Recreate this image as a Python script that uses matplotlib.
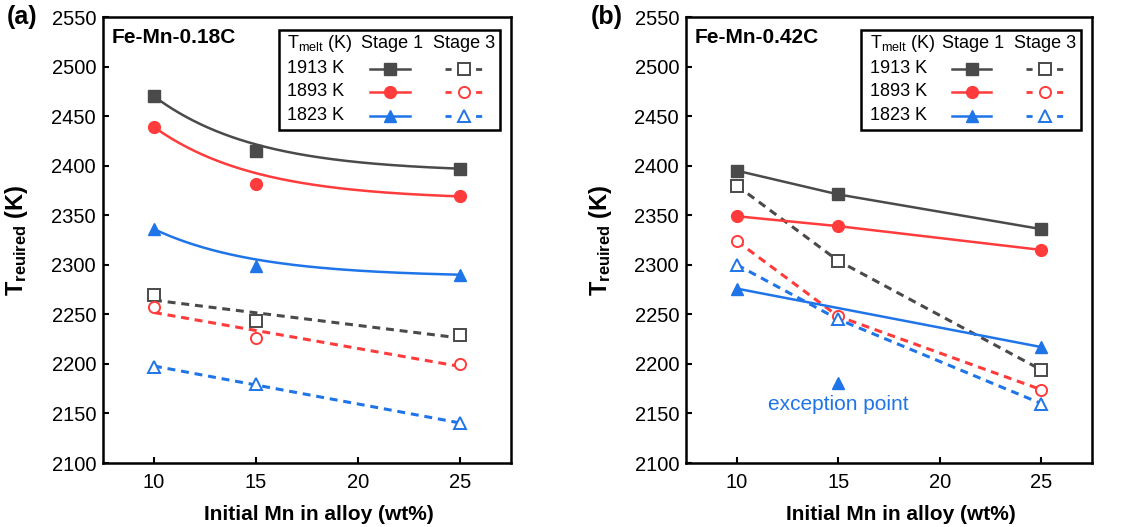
import numpy as np
import matplotlib
matplotlib.use("Agg")
import matplotlib.pyplot as plt
from matplotlib.patches import Rectangle
from matplotlib.lines import Line2D

plt.rcParams['font.family'] = ['Liberation Sans', 'DejaVu Sans']
plt.rcParams['mathtext.fontset'] = 'custom'
plt.rcParams['mathtext.rm'] = 'Liberation Sans'
plt.rcParams['mathtext.bf'] = 'Liberation Sans:bold'

# ---- data ----
mn = [10, 15, 25]
melt_labels = ['1913 K', '1893 K', '1823 K']
colors = ['#4a4a4a', '#ff3b3b', '#1f75e8']
markers = ['s', 'o', '^']

# Fe-Mn-0.18C
a_stage1 = {'1913 K': [2470, 2415, 2397],
            '1893 K': [2439, 2382, 2369],
            '1823 K': [2336, 2299, 2290]}
a_stage3 = {'1913 K': [2270, 2243, 2229],
            '1893 K': [2257, 2226, 2200],
            '1823 K': [2197, 2180, 2140]}

# Fe-Mn-0.42C
b_stage1 = {'1913 K': [2395, 2371, 2336],
            '1893 K': [2349, 2339, 2315],
            '1823 K': [2276, 2181, 2217]}
b_stage3 = {'1913 K': [2380, 2304, 2194],
            '1893 K': [2324, 2248, 2174],
            '1823 K': [2300, 2245, 2160]}
b_exception = ('1823 K', 15)

yticks = [2100, 2150, 2200, 2250, 2300, 2350, 2400, 2450, 2500, 2550]
xticks = [10, 15, 20, 25]


def exp_trend(x, y, tau=5.0):
    """Exponential-decay trend anchored on the first and last points."""
    x = np.asarray(x, float)
    y = np.asarray(y, float)
    e0, e1 = np.exp(-x[0] / tau), np.exp(-x[-1] / tau)
    b = (y[0] - y[-1]) / (e0 - e1)
    a = y[-1] - b * e1
    xs = np.linspace(x[0], x[-1], 200)
    return xs, a + b * np.exp(-xs / tau)


def lin_trend(x, y):
    k, c = np.polyfit(x, y, 1)
    xs = np.linspace(min(x), max(x), 50)
    return xs, k * xs + c


fig = plt.figure(figsize=(11.43, 5.27), dpi=100)
ax_a = fig.add_axes([0.0901, 0.1214, 0.357, 0.8463])
ax_b = fig.add_axes([0.6002, 0.1214, 0.3552, 0.8463])

ms_fill = 8.5
dash = (2.6, 1.9)


def style_axes(ax, title, panel):
    ax.set_xlim(7.5, 27.5)
    ax.set_ylim(2100, 2550)
    ax.set_xticks(xticks)
    ax.set_yticks(yticks)
    ax.tick_params(direction='in', length=4, width=1.5, labelsize=14.5, pad=5)
    ax.tick_params(axis='x', pad=7)
    for s in ax.spines.values():
        s.set_linewidth(1.8)
    ax.set_xlabel('Initial Mn in alloy (wt%)', fontsize=15, fontweight='bold')
    ax.xaxis.set_label_coords(0.53, -0.095)
    ax.set_ylabel(r'$\mathbf{T_{reuired}}$ (K)', fontsize=17, fontweight='bold')
    ax.yaxis.set_label_coords(-0.178, 0.5)
    ax.text(0.022, 0.953, title, transform=ax.transAxes, fontsize=15,
            fontweight='bold', va='center', ha='left')
    ax.text(-0.235, 1.0, panel, transform=ax.transAxes, fontsize=18,
            fontweight='bold', va='center', ha='left')

    # table-style legend
    box = Rectangle((0.4316, 0.7467), 0.5414, 0.2247, transform=ax.transAxes,
                    fill=False, lw=1.8, ec='black', zorder=5)
    ax.add_patch(box)
    fs = 13
    ax.text(0.452, 0.9405, r'T$_{\mathrm{melt}}$ (K)', transform=ax.transAxes,
            fontsize=fs, va='center', ha='left', zorder=6)
    ax.text(0.7075, 0.9405, 'Stage 1', transform=ax.transAxes, fontsize=fs,
            va='center', ha='center', zorder=6)
    ax.text(0.8845, 0.9405, 'Stage 3', transform=ax.transAxes, fontsize=fs,
            va='center', ha='center', zorder=6)
    row_y = [0.8845, 0.8322, 0.779]
    for lab, c, m, yy in zip(melt_labels, colors, markers, row_y):
        ax.text(0.452, yy, lab, transform=ax.transAxes, fontsize=fs,
                va='center', ha='left', zorder=6)
        ax.add_line(Line2D([0.655, 0.752], [yy, yy], transform=ax.transAxes,
                           color=c, lw=1.8, zorder=6))
        ax.add_line(Line2D([0.7035], [yy], transform=ax.transAxes, color=c,
                           marker=m, ms=ms_fill, mec=c, mfc=c, zorder=7))
        ax.add_line(Line2D([0.838, 0.93], [yy, yy], transform=ax.transAxes,
                           color=c, lw=2.0, ls=(0, (2.2, 3.3)), zorder=6))
        ax.add_line(Line2D([0.884], [yy], transform=ax.transAxes, color=c,
                           marker=m, ms=8, mec=c, mfc='white', mew=1.4,
                           ls='none', zorder=7))


# ---- (a) Fe-Mn-0.18C ----
for lab, c, m in zip(melt_labels, colors, markers):
    y1 = a_stage1[lab]
    xs, ys = exp_trend(mn, y1)
    ax_a.plot(xs, ys, color=c, lw=1.8, zorder=2)
    ax_a.plot(mn, y1, ls='none', marker=m, ms=ms_fill, color=c, zorder=3)

    y3 = a_stage3[lab]
    xs, ys = lin_trend(mn, y3)
    ax_a.plot(xs, ys, color=c, lw=2.2, ls=(0, dash), zorder=2)
    ax_a.plot(mn, y3, ls='none', marker=m, ms=8, mec=c, mfc='white',
              mew=1.4, zorder=3)

# ---- (b) Fe-Mn-0.42C ----
for lab, c, m in zip(melt_labels, colors, markers):
    y1 = b_stage1[lab]
    xs = list(mn)
    ys = list(y1)
    if lab == b_exception[0]:
        i = mn.index(b_exception[1])
        ax_b.plot([mn[i]], [y1[i]], ls='none', marker=m, ms=ms_fill,
                  color=c, zorder=3)
        ax_b.text(mn[i], 2159, 'exception point', color=c, fontsize=15,
                  ha='center', va='center')
        xs.pop(i)
        ys.pop(i)
    ax_b.plot(xs, ys, color=c, lw=1.8, marker=m, ms=ms_fill, zorder=3)

    y3 = b_stage3[lab]
    ax_b.plot(mn, y3, color=c, lw=2.2, ls=(0, dash), zorder=2)
    ax_b.plot(mn, y3, ls='none', marker=m, ms=8, mec=c, mfc='white',
              mew=1.4, zorder=3)

style_axes(ax_a, 'Fe-Mn-0.18C', '(a)')
style_axes(ax_b, 'Fe-Mn-0.42C', '(b)')

fig.savefig('out.png', dpi=100)
